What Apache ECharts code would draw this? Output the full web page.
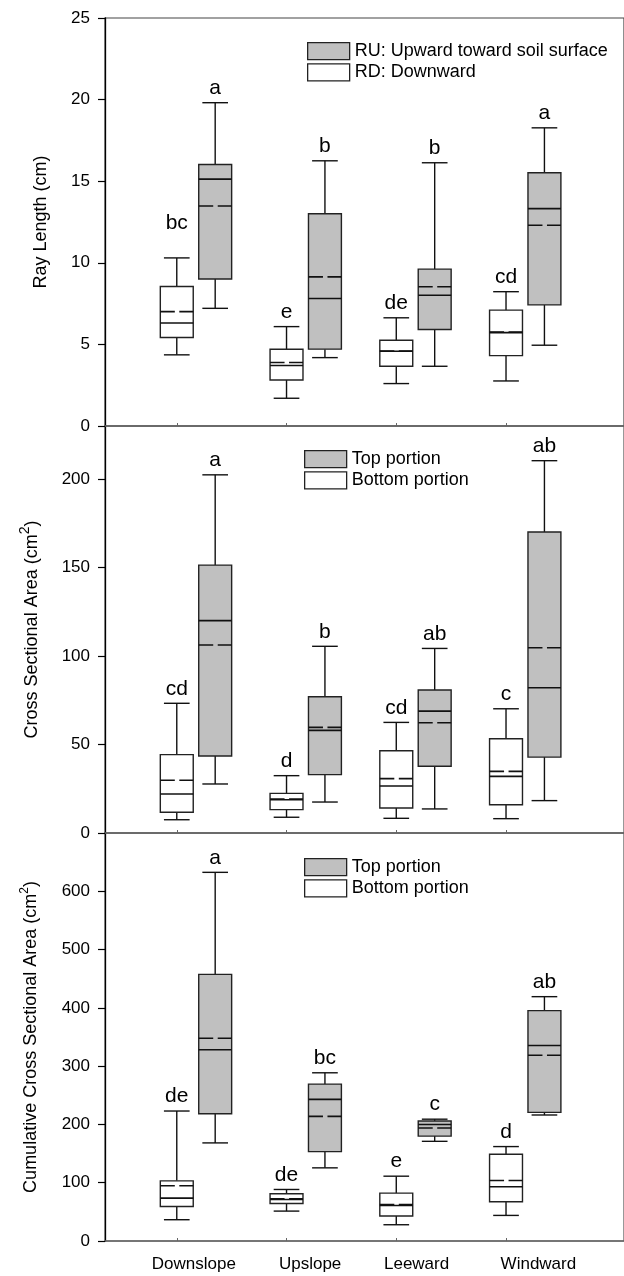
<!DOCTYPE html>
<html>
<head>
<meta charset="utf-8">
<script src="https://cdn.jsdelivr.net/npm/echarts@6/dist/echarts.min.js"></script>
<style>
html,body{margin:0;padding:0;background:#fff;}
#chart{width:624px;height:1276px;}
</style>
</head>
<body>
<div id="chart"></div>
<script>
// ---------- data ----------
const categories = ['Downslope', 'Upslope', 'Leeward', 'Windward'];
// each row: [whiskerLow, Q1, median, Q3, whiskerHigh, mean]
const rayRU = [[7.21, 9.01, 15.13, 16.02, 19.81, 13.48], [4.19, 4.71, 7.81, 13.01, 16.25, 9.14], [3.66, 5.91, 8.01, 9.61, 16.13, 8.53], [4.95, 7.42, 13.32, 15.52, 18.27, 12.30]];
const rayRD = [[4.36, 5.42, 6.31, 8.55, 10.30, 7.01], [1.70, 2.82, 3.71, 4.70, 6.09, 3.89], [2.60, 3.66, 4.58, 5.25, 6.63, 4.60], [2.76, 4.31, 5.72, 7.10, 8.23, 5.76]];
const csaTop = [[27.7, 43.5, 120.0, 151.4, 202.4, 106.2], [17.5, 33.0, 58.0, 77.0, 105.5, 59.7], [13.6, 37.7, 68.9, 80.8, 104.3, 62.3], [18.3, 42.9, 82.1, 170.1, 210.4, 104.7]];
const csaBottom = [[7.5, 11.7, 22.0, 44.3, 73.3, 29.8], [8.9, 13.2, 18.8, 22.4, 32.4, 19.2], [8.3, 14.1, 26.6, 46.5, 62.5, 30.7], [8.1, 16.0, 32.0, 53.3, 70.2, 34.8]];
const ccsaTop = [[168.3, 218.4, 328.0, 457.4, 632.5, 347.9], [125.5, 153.4, 243.0, 269.2, 288.6, 213.9], [171.0, 180.0, 200.0, 206.0, 209.0, 194.0], [216.2, 220.7, 335.4, 395.2, 419.2, 318.8]];
const ccsaBottom = [[36.5, 59.3, 73.6, 103.2, 223.0, 94.7], [51.3, 64.4, 71.3, 81.0, 88.4, 72.4], [27.9, 42.8, 61.0, 82.1, 111.2, 62.7], [43.9, 67.3, 93.0, 148.9, 162.0, 103.8]];
// significance letters
const rayRULetters = ['a', 'b', 'b', 'a'];
const rayRDLetters = ['bc', 'e', 'de', 'cd'];
const csaTopLetters = ['a', 'b', 'ab', 'ab'];
const csaBottomLetters = ['cd', 'd', 'cd', 'c'];
const ccsaTopLetters = ['a', 'bc', 'c', 'ab'];
const ccsaBottomLetters = ['de', 'de', 'e', 'd'];
// y axis ticks
const rayTicks = {min: 0, max: 25, interval: 5};
const csaTicks = {min: 0, max: 230, interval: 50};
const ccsaTicks = {min: 0, max: 700, interval: 100};

// ---------- layout / style ----------
const FONT = "'Liberation Sans', Arial, Helvetica, sans-serif";
const X_MIN = 0.346, X_MAX = 5.075;
const BOX_W = 0.30, CAP_W = 0.234, GRAY_OFFSET = 0.35;
const LETTER_GAP = 14.5;
const letterGapOverride = {'rayRD-0': 35};
const labelShift = [-0.02, 0.04, 0.01, 0.12];
const GRAY = '#c0c0c0';

function rows(arr) { return arr.map((r, i) => [i + 1].concat(r)); }

function renderer(key, offset, fill, letters) {
  return function (params, api) {
    const i = params.dataIndex;
    const x = api.value(0) + offset;
    const pLo = api.coord([x, api.value(1)]);
    const pQ1 = api.coord([x, api.value(2)]);
    const pMed = api.coord([x, api.value(3)]);
    const pQ3 = api.coord([x, api.value(4)]);
    const pHi = api.coord([x, api.value(5)]);
    const pMean = api.coord([x, api.value(6)]);
    const bw = api.size([BOX_W, 0])[0];
    const cw = api.size([CAP_W, 0])[0];
    const cx = pLo[0];
    const gap = letterGapOverride[key + '-' + i] || LETTER_GAP;
    const line = (x1, y1, x2, y2, extra) => ({
      type: 'line', shape: {x1, y1, x2, y2},
      style: Object.assign({stroke: '#111', lineWidth: 1.4}, extra || {})
    });
    return {
      type: 'group',
      children: [
        line(cx, pHi[1], cx, pQ3[1]),
        line(cx, pQ1[1], cx, pLo[1]),
        line(cx - cw / 2, pHi[1], cx + cw / 2, pHi[1]),
        line(cx - cw / 2, pLo[1], cx + cw / 2, pLo[1]),
        {type: 'rect', shape: {x: cx - bw / 2, y: pQ3[1], width: bw, height: pQ1[1] - pQ3[1]},
          style: {fill: fill, stroke: '#222', lineWidth: 1.4}},
        line(cx - bw / 2, pMed[1], cx + bw / 2, pMed[1], {lineWidth: 1.6}),
        line(cx - bw / 2, pMean[1], cx + bw / 2, pMean[1], {lineWidth: 1.6, lineDash: [14.5, 4.5]}),
        {type: 'text', style: {text: letters[i], x: cx, y: pHi[1] - gap, align: 'center',
          verticalAlign: 'middle', fontSize: 21, fontFamily: FONT, fill: '#000'}}
      ]
    };
  };
}

function boxSeries(name, idx, key, arr, offset, fill, letters) {
  return {
    type: 'custom', name: name, xAxisIndex: idx, yAxisIndex: idx, silent: true,
    itemStyle: {color: fill, borderColor: '#222'},
    renderItem: renderer(key, offset, fill, letters),
    encode: {x: 0, y: [1, 2, 3, 4, 5, 6]},
    data: rows(arr)
  };
}

function xAxis(idx, withLabels) {
  return {
    gridIndex: idx, type: 'value', min: X_MIN, max: X_MAX,
    axisLine: {show: true, onZero: false, lineStyle: {color: '#666', width: 1.5}},
    axisTick: {show: true, inside: true, length: 3, customValues: [1, 2, 3, 4], lineStyle: {color: '#666'}},
    axisLabel: {
      show: withLabels, customValues: categories.map((c, i) => i + 1 + GRAY_OFFSET / 2 + labelShift[i]),
      formatter: function (v) { return categories[Math.round(v - GRAY_OFFSET / 2) - 1] || ''; },
      margin: 15, fontSize: 17, color: '#000', fontFamily: FONT
    },
    splitLine: {show: false}
  };
}

function yAxis(idx, ticks, name, gap, rich, showMax) {
  return {
    gridIndex: idx, type: 'value', min: ticks.min, max: ticks.max, interval: ticks.interval,
    axisLine: {show: true, lineStyle: {color: '#000', width: 1.3}},
    axisTick: {show: true, inside: false, length: 7, lineStyle: {color: '#000', width: 1.2}},
    axisLabel: {margin: 15, fontSize: 17, color: '#000', fontFamily: FONT, showMaxLabel: showMax},
    splitLine: {show: false},
    name: name, nameLocation: 'middle', nameGap: gap, nameRotate: 90,
    nameTextStyle: {fontSize: 18, color: '#000', fontFamily: FONT, rich: rich}
  };
}

function legend(top, left, names) {
  return {
    top: top, left: left, orient: 'vertical', itemWidth: 42, itemHeight: 17, itemGap: 3,
    selectedMode: false,
    textStyle: {fontSize: 18, color: '#000', fontFamily: FONT},
    data: [
      {name: names[0], icon: 'rect', itemStyle: {color: GRAY, borderColor: '#222', borderWidth: 1.3}},
      {name: names[1], icon: 'rect', itemStyle: {color: '#fff', borderColor: '#222', borderWidth: 1.3}}
    ]
  };
}

const richSup = (size, raise) => ({
  t: {fontSize: 18, color: '#000', fontFamily: FONT, verticalAlign: 'bottom'},
  s: {fontSize: size, color: '#000', fontFamily: FONT, verticalAlign: 'bottom', padding: [0, 0, raise, 0]}
});

const chart = echarts.init(document.getElementById('chart'), null, {renderer: 'canvas'});
chart.setOption({
  animation: false,
  backgroundColor: '#fff',
  grid: [
    {left: 105, top: 18, width: 540, height: 408, show: true, borderColor: '#444', borderWidth: 1.2},
    {left: 105, top: 426, width: 540, height: 407, show: true, borderColor: '#555', borderWidth: 1.2},
    {left: 105, top: 833, width: 540, height: 408, show: true, borderColor: '#555', borderWidth: 1.2}
  ],
  xAxis: [xAxis(0, false), xAxis(1, false), xAxis(2, true)],
  yAxis: [
    yAxis(0, rayTicks, 'Ray Length (cm)', 55, undefined, true),
    yAxis(1, csaTicks, '{t|Cross Sectional Area (cm}{s|2}{t|)}', 64, richSup(14, 9), false),
    yAxis(2, ccsaTicks, '{t|Cumulative Cross Sectional Area (cm}{s|2}{t|)}', 65, richSup(12, 9), false)
  ],
  legend: [
    legend(37, 302, ['RU: Upward toward soil surface', 'RD: Downward']),
    legend(445, 299, ['Top portion', 'Bottom portion']),
    legend(853, 299, ['Top portion', 'Bottom portion'])
  ],
  series: [
    boxSeries('RD: Downward', 0, 'rayRD', rayRD, 0, '#fff', rayRDLetters),
    boxSeries('RU: Upward toward soil surface', 0, 'rayRU', rayRU, GRAY_OFFSET, GRAY, rayRULetters),
    boxSeries('Bottom portion', 1, 'csaBottom', csaBottom, 0, '#fff', csaBottomLetters),
    boxSeries('Top portion', 1, 'csaTop', csaTop, GRAY_OFFSET, GRAY, csaTopLetters),
    boxSeries('Bottom portion', 2, 'ccsaBottom', ccsaBottom, 0, '#fff', ccsaBottomLetters),
    boxSeries('Top portion', 2, 'ccsaTop', ccsaTop, GRAY_OFFSET, GRAY, ccsaTopLetters)
  ]
});
</script>
</body>
</html>
